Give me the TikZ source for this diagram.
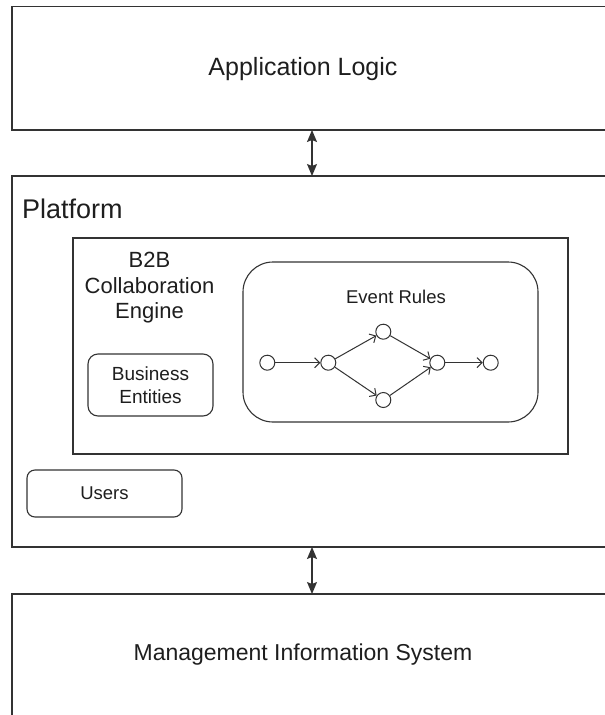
\documentclass[tikz,border=0pt]{standalone}
\usepackage{fontspec}
\setmainfont{Liberation Sans}
\usepackage{xcolor}
\usepackage{tikz}
\usetikzlibrary{arrows, shapes, positioning, arrows.meta, calc}
\definecolor{linegray}{RGB}{51,51,51}
\definecolor{textgray}{RGB}{30,30,30}
\tikzset{
  bigbox/.style={draw=linegray, line width=1.3pt, inner sep=0pt, outer sep=0pt},
  roundbox/.style={draw=linegray, line width=1.1pt, rounded corners=#1, inner sep=0pt, outer sep=0pt, align=center, text=textgray},
  state/.style={circle, draw=linegray, line width=1pt, fill=white, minimum size=15pt, inner sep=0pt},
}
\tikzstyle{biarrow} = [line width=1.1pt, draw=linegray, {Stealth[length=12pt,width=10pt,inset=2pt]}-{Stealth[length=12pt,width=10pt,inset=2pt]}]
\tikzstyle{flow} = [line width=1pt, draw=linegray, -{Straight Barb[length=5pt,width=10pt]}]

\begin{document}
\begin{tikzpicture}[x=1pt, y=-1pt]
        \clip (0,0) rectangle (605,715);
        \fill[white] (0,0) rectangle (605,715);

        % outer layers
        \node[bigbox, minimum width=600pt, minimum height=123.5pt] (appl) at (312,68.25) {};
        \node[text=textgray, font=\fontsize{25}{30}\selectfont] (appltext) at (303,69) {Application Logic};

        \node[bigbox, minimum width=600pt, minimum height=371pt] (platform) at (312,361.5) {};
        \node[text=textgray, font=\fontsize{27}{30}\selectfont, anchor=west, inner sep=0pt] (platformtext) at (22,209) {Platform};

        \node[bigbox, minimum width=600pt, minimum height=146pt] (mis) at (312,667) {};
        \node[text=textgray, font=\fontsize{23}{30}\selectfont] (mistext) at (303,655) {Management Information System};

        \draw[biarrow] (appl.south) -- (platform.north);
        \draw[biarrow] (platform.south) -- (mis.north);

        % inside the platform
        \node[bigbox, line width=1.1pt, minimum width=495pt, minimum height=216pt] (engine) at (320.5,346) {};
        \node[text=textgray, align=center, font=\fontsize{22}{25.5}\selectfont] (enginetext) at (149.5,288) {B2B\\Collaboration\\Engine};

        \node[roundbox=10pt, minimum width=125pt, minimum height=62pt, font=\fontsize{19}{23}\selectfont] (entities) at (150.5,385) {Business\\Entities};
        \node[roundbox=8pt, minimum width=155pt, minimum height=47pt, font=\fontsize{18.5}{22}\selectfont] (users) at (104.5,493.5) {Users};

        \node[roundbox=30pt, minimum width=295pt, minimum height=160pt] (rules) at (390.5,342) {};
        \node[text=textgray, font=\fontsize{18.5}{22}\selectfont] (rulestext) at (396,297) {Event Rules};

        % event graph
        \node[state] (e1) at (267.3,362.7) {};
        \node[state] (e2) at (328.3,362.7) {};
        \node[state] (e3) at (383.3,331.7) {};
        \node[state] (e4) at (383.3,400) {};
        \node[state] (e5) at (437.3,362.7) {};
        \node[state] (e6) at (490.7,362.7) {};
        \draw[flow] (e1) -- (e2);
        \draw[flow] (e2) -- (e3);
        \draw[flow] (e2) -- (e4);
        \draw[flow] (e3) -- (e5);
        \draw[flow] (e4) -- (e5);
        \draw[flow] (e5) -- (e6);
\end{tikzpicture}
\end{document}
